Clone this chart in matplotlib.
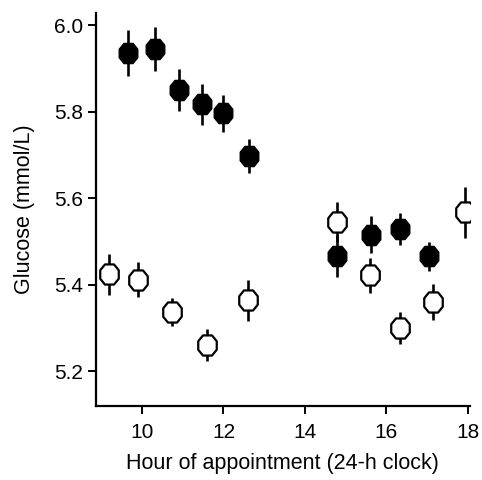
import matplotlib.pyplot as plt
from matplotlib.path import Path

plt.rcParams['font.family'] = ['Liberation Sans', 'DejaVu Sans']

# filled symbols
hour_filled = [9.66, 10.32, 10.91, 11.48, 11.98, 12.63, 14.78, 15.61, 16.33, 17.05]
glu_filled = [5.935, 5.945, 5.850, 5.817, 5.796, 5.698, 5.466, 5.516, 5.529, 5.466]
err_filled = [0.053, 0.050, 0.049, 0.048, 0.042, 0.040, 0.048, 0.042, 0.038, 0.034]

# open symbols
hour_open = [9.19, 9.91, 10.73, 11.59, 12.61, 14.78, 15.59, 16.33, 17.15, 17.93]
glu_open = [5.424, 5.412, 5.337, 5.262, 5.364, 5.545, 5.422, 5.301, 5.360, 5.568]
err_open = [0.048, 0.040, 0.033, 0.037, 0.047, 0.046, 0.040, 0.037, 0.042, 0.059]

# slightly tall octagon, like the printed symbols
oct_pts = [(-0.45, -1.0), (-0.92, -0.42), (-0.92, 0.42), (-0.45, 1.0), (0.45, 1.0),
           (0.92, 0.42), (0.92, -0.42), (0.45, -1.0), (-0.45, -1.0)]
sym = Path(oct_pts, closed=True)

fig = plt.figure(figsize=(4.82, 4.80), dpi=100)
ax = fig.add_axes([0.199, 0.154, 0.776, 0.819])

ax.errorbar(hour_open, glu_open, yerr=err_open, fmt='none', ecolor='black',
            elinewidth=1.9, capsize=0, zorder=2)
ax.plot(hour_open, glu_open, ls='none', marker=sym, ms=14.5,
        mfc='white', mec='black', mew=1.6, zorder=3)
ax.errorbar(hour_filled, glu_filled, yerr=err_filled, fmt='none', ecolor='black',
            elinewidth=1.9, capsize=0, zorder=2)
ax.plot(hour_filled, glu_filled, ls='none', marker=sym, ms=14.5,
        mfc='black', mec='black', mew=1.0, zorder=3)

ax.set_xlim(8.87, 18.05)
ax.set_ylim(5.12, 6.028)
ax.set_xticks([10, 12, 14, 16, 18])
ax.set_yticks([5.2, 5.4, 5.6, 5.8, 6.0])
ax.set_yticklabels(['5.2', '5.4', '5.6', '5.8', '6.0'])

for s in ['top', 'right']:
    ax.spines[s].set_visible(False)
for s in ['left', 'bottom']:
    ax.spines[s].set_linewidth(1.6)
ax.tick_params(direction='out', length=6, width=1.4, labelsize=15)
ax.tick_params(axis='x', pad=6)
ax.tick_params(axis='y', pad=3)

ax.set_xlabel('Hour of appointment (24-h clock)', fontsize=15.5, labelpad=8)
ax.set_ylabel('Glucose (mmol/L)', fontsize=15.5, labelpad=14)

fig.savefig('out.png', dpi=100)
